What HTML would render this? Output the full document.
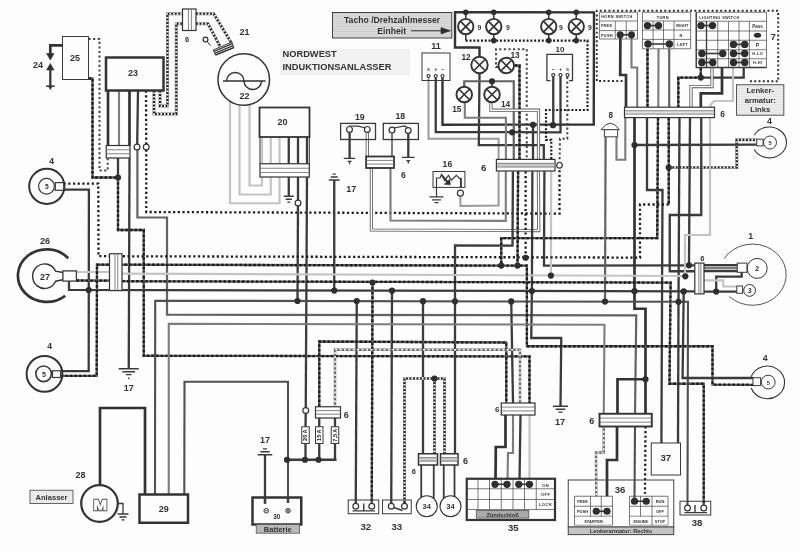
<!DOCTYPE html>
<html lang="de"><head><meta charset="utf-8"><title>Schaltplan Nordwest Induktionsanlasser</title>
<style>
html,body{margin:0;padding:0;background:#fcfdfe;}
body{width:800px;height:552px;overflow:hidden;}
svg{display:block;filter:grayscale(1) blur(0.3px);}
svg text{font-family:"Liberation Sans",sans-serif;font-weight:bold;fill:#333;}
polyline,path,line{fill:none;}
.dk{stroke:#3b3b3b;stroke-width:2.3;}
.tk{stroke:#333;stroke-width:2.7;}
.tf{stroke:#333;stroke-width:2.4;}
.gr{stroke:#7c7c7c;stroke-width:2.1;}
.g1{stroke:#505050;stroke-width:2.1;}
.g2{stroke:#636363;stroke-width:2.2;}
.mg{stroke:#9b9b9b;stroke-width:2;}
.lg{stroke:#c4c4c4;stroke-width:2.2;}
.dt{stroke:#1c1c1c;stroke-width:2.3;stroke-dasharray:2.2 2.5;}
.d7{stroke:#2a2a2a;stroke-width:1.9;stroke-dasharray:1.9 2.4;}
.dl{stroke:#444;stroke-width:2;stroke-dasharray:2.1 2.5;}
.wdb{stroke:#7a7a7a;stroke-width:2.9;}
.wdw{stroke:#fcfdfe;stroke-width:1.8;}
.wdo{stroke:#202020;stroke-width:2.1;stroke-dasharray:1.9 1.6;}
.d9{stroke:#1c1c1c;stroke-width:2.2;stroke-dasharray:2 1.8;}
.ddb{stroke:#5c5c5c;stroke-width:2.3;}
.ddo{stroke:#1c1c1c;stroke-width:2.3;stroke-dasharray:2.6 2;}
.whb{stroke:#5a5a5a;stroke-width:3.2;}
.who{stroke:#fcfdfe;stroke-width:1.5;}
.ldb{stroke:#6e6e6e;stroke-width:2.4;}
.ldo{stroke:#fcfdfe;stroke-width:1.5;stroke-dasharray:2 2.4;}
.st{stroke:#333;stroke-width:1.5;}
.s2{stroke:#3a3a3a;stroke-width:1.8;}
.th{stroke:#333;stroke-width:1;fill:none;}
.jd{fill:#2e2e2e;}
.oc{fill:#fcfdfe;stroke:#333;stroke-width:1.2;}
.bx{fill:none;stroke:#3a3a3a;stroke-width:1;}
.bm{fill:none;stroke:#333;stroke-width:1.8;}
.bt{fill:none;stroke:#333;stroke-width:2.5;}
.cn{fill:#fcfdfe;stroke:#333;stroke-width:1.2;}
.cs{stroke:#666;stroke-width:0.8;}
.lp{fill:#fcfdfe;stroke:#333;stroke-width:1.9;}
.lx{stroke:#333;stroke-width:1.7;}
.gd{stroke:#3a3a3a;stroke-width:1.3;}
.ar{fill:#2e2e2e;stroke:#2e2e2e;stroke-width:0.6;}
.tb{stroke:#444;stroke-width:0.7;fill:none;}
</style></head>
<body>
<svg width="800" height="552" viewBox="0 0 800 552">
<defs>
<pattern id="hl" width="4" height="2.6" patternUnits="userSpaceOnUse"><rect width="4" height="2.6" fill="#dcdcdc"/><rect width="4" height="0.7" fill="#c4c4c4"/></pattern>
<pattern id="hl2" width="4" height="2.6" patternUnits="userSpaceOnUse"><rect width="4" height="2.6" fill="#ececed"/><rect width="4" height="0.6" fill="#dcdcdc"/></pattern>
</defs>
<rect width="800" height="552" fill="#fcfdfe"/>
<polyline class="dl" points="88.5,39 99.5,39 99.5,170.5 107.7,170.5 107.7,158.5"/>
<polyline class="ddb" points="88.5,78.5 92.5,78.5 92.5,177.5 118,177.5"/><polyline class="ddo" points="88.5,78.5 92.5,78.5 92.5,177.5 118,177.5"/>
<polyline class="dk" points="118,177.5 118,158"/>
<polyline class="ddb" points="118,177.5 118,230 143.75,230 143.75,355.75 529.5,356.4 529.5,403"/><polyline class="ddo" points="118,177.5 118,230 143.75,230 143.75,355.75 529.5,356.4 529.5,403"/>
<polyline class="tk" points="108,90.5 108,145.5"/>
<polyline class="gr" points="119,90.5 119,145.5"/>
<polyline class="tk" points="129.5,90.5 129.5,145.5"/>
<polyline class="dk" points="138,90.5 137.2,144.5"/>
<polyline class="dk" points="129.5,158 128.75,368.75"/>
<polyline class="g2" points="137.4,149.9 137.4,217.5 167,217.5 167,314.7 636.25,315.3 635,413.75"/>
<polyline class="dt" points="146,90.5 146.25,144.5"/>
<polyline class="dt" points="146.25,149.5 146.25,212 559.5,213.6 559.5,168"/>
<polyline class="wdb" points="154,90.5 154,114 176.25,114 176.25,23.75 182.5,23.75"/><polyline class="wdw" points="154,90.5 154,114 176.25,114 176.25,23.75 182.5,23.75"/><polyline class="wdo" points="154,90.5 154,114 176.25,114 176.25,23.75 182.5,23.75"/>
<polyline class="wdb" points="160,90.5 160,106 167.5,106 167.5,13.75 182.5,13.75"/><polyline class="wdw" points="160,90.5 160,106 167.5,106 167.5,13.75 182.5,13.75"/><polyline class="wdo" points="160,90.5 160,106 167.5,106 167.5,13.75 182.5,13.75"/>
<polyline class="wdb" points="196,13.75 213.75,13.75 231.9,43.75"/><polyline class="wdw" points="196,13.75 213.75,13.75 231.9,43.75"/><polyline class="wdo" points="196,13.75 213.75,13.75 231.9,43.75"/>
<polyline class="wdb" points="196,23.75 208,23.75 220,46.25"/><polyline class="wdw" points="196,23.75 208,23.75 220,46.25"/><polyline class="wdo" points="196,23.75 208,23.75 220,46.25"/>
<polyline class="lg" points="230,102 230,203.25 279.5,203.25 279.5,177"/>
<polyline class="lg" points="239.5,104.5 239.5,194.5 270.75,194.5 270.75,177"/>
<polyline class="lg" points="249.5,104 249.5,185.5 262,185.5 262,177"/>
<polyline class="lg" points="262,137 262,163.75"/>
<polyline class="lg" points="270.75,137 270.75,163.75"/>
<polyline class="lg" points="279.5,137 279.5,163.75"/>
<polyline class="dk" points="288.75,137 288.75,163.75"/>
<polyline class="dk" points="298,137 298,163.75"/>
<polyline class="dk" points="307,137 307,163.75"/>
<path class="th" d="M260,137V164M309.3,137V164"/>
<polyline class="dk" points="288.75,177 288.75,196.25"/>
<polyline class="dk" points="298,177 298,200.4"/>
<polyline class="dk" points="298,205.6 297.5,300.75"/>
<polyline class="dk" points="307,177 305.75,408"/>
<polyline class="dk" points="334.25,180 334.25,291"/>
<polyline class="dk" points="349.6,132.3 349.6,158.3"/>
<polyline class="whb" points="367.3,132.3 367.3,156.5"/><polyline class="who" points="367.3,132.3 367.3,156.5"/>
<polyline class="gr" points="392,133 392,156.5"/>
<polyline class="dk" points="408.3,133.4 408.3,157.3"/>
<polyline class="whb" points="371.4,168 371.4,230 538.75,230.6 538.4,171.3"/><polyline class="who" points="371.4,168 371.4,230 538.75,230.6 538.4,171.3"/>
<polyline class="gr" points="390.5,168 390.5,220.5 505.8,220.9 505.8,171.3"/>
<polyline class="mg" points="460.4,196.3 460.4,206 498.6,205.6 498.6,171.3"/>
<polyline class="mg" points="428.5,78 428.5,138.8 498.6,138.8 498.6,159.4"/>
<polyline class="dk" points="435.75,78 435.75,132 560.5,132.3 560.5,77"/>
<polyline class="tf" points="442.5,78 442.5,124.8 593.75,124.5 594,12.4 455,12.2 455,47.5 479.5,47.5 479.5,56"/>
<polyline class="dk" points="479.5,73.5 478.8,145.1 543.8,145.1 543.8,159.4"/>
<polyline class="st" points="465.75,12 465.75,19"/>
<polyline class="st" points="465.75,35 465.75,40.6"/>
<polyline class="st" points="493.75,12 493.75,19"/>
<polyline class="st" points="493.75,35 493.75,40.6"/>
<polyline class="st" points="548.75,12 548.75,19"/>
<polyline class="st" points="548.75,35 548.75,40.6"/>
<polyline class="st" points="576.25,12 576.25,19"/>
<polyline class="st" points="576.25,35 576.25,40.6"/>
<polyline class="d9" points="465.75,40.6 587.5,40.6 587.5,110 546,110 546,139.8 551.3,139.8 551.3,159.4"/>
<polyline class="dl" points="498,67 496,67 496,49.25 526.75,49.25 526.75,159.4"/>
<polyline class="dt" points="525.6,171.3 525.6,257.75"/>
<polyline class="ddb" points="514.75,65.5 519.5,65.5 519.5,159.4"/><polyline class="ddo" points="514.75,65.5 519.5,65.5 519.5,159.4"/>
<polyline class="ddb" points="518.1,171.3 517.5,265.6"/><polyline class="ddo" points="518.1,171.3 517.5,265.6"/>
<polyline class="g2" points="464.25,86 464.25,81.25 513.75,81.25 513.75,159.4"/>
<polyline class="g2" points="492,81.25 492,86"/>
<polyline class="dk" points="512.9,171.3 512.5,245.6 455,245.5 455,453.75"/>
<polyline class="gr" points="464.8,103 464.8,117.7 505.9,117.7 505.9,159.4"/>
<polyline class="whb" points="491,103 491,110.2 538.5,110.2 538.5,159.4"/><polyline class="who" points="491,103 491,110.2 538.5,110.2 538.5,159.4"/>
<polyline class="dk" points="533,124.8 533,159.4"/>
<polyline class="dk" points="532.4,171.3 531.9,290.6 531.25,338 561.25,338 560.5,406.25"/>
<polyline class="dk" points="544.4,171.3 544,265.6 694.75,265.4"/>
<polyline class="lg" points="551.2,171.3 550.9,275.6"/>
<polyline class="dk" points="553.25,77 553.25,125"/>
<polyline class="dl" points="567.3,77 567.3,138.75 560,138.75 559.5,162.5"/>
<polyline class="d7" points="622.5,81 596.8,81 596.8,10.8 778.2,10.8 778.2,81.25 750,81.25"/>
<polyline class="tk" points="620.4,37 620.2,75 626,75 626,107"/>
<polyline class="gr" points="631.5,37 631.5,67.5 637.2,67.5 637.2,107"/>
<polyline class="ddb" points="647.5,48.75 647.5,107"/><polyline class="ddo" points="647.5,48.75 647.5,107"/>
<polyline class="gr" points="658.5,48.75 658.3,107"/>
<polyline class="g2" points="669.2,48.75 669.2,107"/>
<polyline class="ddb" points="700.8,67.8 700.8,77.6 678.3,77.6 678.3,107"/><polyline class="ddo" points="700.8,67.8 700.8,77.6 678.3,77.6 678.3,107"/>
<polyline class="dk" points="700.8,77.6 743.7,77.6 743.7,67.8"/>
<polyline class="whb" points="712,67.8 712,86.6 691,86.6 691,107"/><polyline class="who" points="712,67.8 712,86.6 691,86.6 691,107"/>
<polyline class="tk" points="722,67.8 722,93.4 700.8,93.4 700.8,107"/>
<polyline class="lg" points="733,67.8 733,101 714,101 710.6,104.6 710.6,107"/>
<polyline class="gr" points="625.3,118 625.3,159.7 616.5,159.7 616.5,137"/>
<polyline class="tk" points="634.5,118 634.5,308.75 645.5,308.75 645.5,413.75"/>
<polyline class="dk" points="647,118 647,190 662.5,190 661.4,443"/>
<polyline class="ddb" points="658,118 657.25,238.1 501.25,238.1 501.25,265.6"/><polyline class="ddo" points="658,118 657.25,238.1 501.25,238.1 501.25,265.6"/>
<polyline class="ddb" points="668.75,118 668.75,204.5"/><polyline class="ddo" points="668.75,118 668.75,204.5"/>
<polyline class="dt" points="668.75,204.5 640,204.5 640,257.6 98.5,256.2 98.3,183.6 63.9,183.6"/>
<polyline class="wdb" points="668.75,167.5 736.9,167.5 736.7,139.9 756.7,139.9"/><polyline class="wdw" points="668.75,167.5 736.9,167.5 736.7,139.9 756.7,139.9"/><polyline class="wdo" points="668.75,167.5 736.9,167.5 736.7,139.9 756.7,139.9"/>
<polyline class="dk" points="679.5,118 678.5,301.8"/>
<polyline class="dk" points="690,118 689,265.3"/>
<polyline class="dk" points="701.25,118 701.25,215 669.75,215 669.75,271.25 694.75,271.25"/>
<polyline class="lg" points="710,118 710,235 685,235 685,276"/>
<polyline class="dk" points="634.5,145 756.7,144.7"/>
<polyline class="g2" points="605.6,137 605,301.5"/>
<polyline class="dk" points="63.9,189.6 88.9,189.6 88.7,371.2 60.6,371.2"/>
<polyline class="lg" points="76.4,272 109.5,272"/>
<polyline class="lg" points="122,273.6 685,276"/>
<polyline class="ddb" points="76.4,280.5 115,280.7 116,281.2 670.6,282.6 669.5,383.75 703.75,383.75 703.75,505"/><polyline class="ddo" points="76.4,280.5 115,280.7 116,281.2 670.6,282.6 669.5,383.75 703.75,383.75 703.75,505"/>
<polyline class="dk" points="69,281.25 69,289.9 694.75,291.4"/>
<polyline class="ddb" points="60.6,375.8 96.7,375.8 97,264.6 526.9,265.7 526.9,346.25 712.5,346.25 712.5,384.6 753,384.8"/><polyline class="ddo" points="60.6,375.8 96.7,375.8 97,264.6 526.9,265.7 526.9,346.25 712.5,346.25 712.5,384.6 753,384.8"/>
<polyline class="g1" points="155,494.5 155.2,300.7 678.5,301.8 688,301.8 687.5,505"/>
<polyline class="dk" points="356.75,301.25 355.75,503"/>
<polyline class="dk" points="423,301.25 423,453.75"/>
<polyline class="dk" points="511.25,301.75 513,403"/>
<polyline class="ddb" points="372.5,282.5 371.75,503"/><polyline class="ddo" points="372.5,282.5 371.75,503"/>
<polyline class="dk" points="392,291.25 391.25,503"/>
<polyline class="gr" points="168.75,494.5 168.75,323.75 604.5,324.7 603.75,413.75"/>
<polyline class="g1" points="184.3,494.5 184.5,381.7 288,381.7 288,503"/>
<polyline class="ddb" points="319.25,406.75 319.25,341.5 506.25,342.5 506.25,403"/><polyline class="ddo" points="319.25,406.75 319.25,341.5 506.25,342.5 506.25,403"/>
<polyline class="ldb" points="335,406.75 335,349.75 520,349.75 520,403"/><polyline class="ldo" points="335,406.75 335,349.75 520,349.75 520,403"/>
<polyline class="tk" points="100,485 100,408 145,408 145,494.5"/>
<polyline class="dk" points="305.75,413 305.5,426.75"/>
<polyline class="dk" points="305.5,443.5 305.5,459.75"/>
<polyline class="dk" points="319.25,418 319.25,426.75"/>
<polyline class="dk" points="319.25,443.5 319.25,459.75"/>
<polyline class="dk" points="335,418 335,426.75"/>
<polyline class="dk" points="335,443.5 335,459.75"/>
<polyline class="dk" points="287,459.75 336.5,459.75"/>
<polyline class="dk" points="265,454.75 265,503.75"/>
<polyline class="wdb" points="404.5,503 404.5,378.5 444.5,378.5 444.5,453.75"/><polyline class="wdw" points="404.5,503 404.5,378.5 444.5,378.5 444.5,453.75"/><polyline class="wdo" points="404.5,503 404.5,378.5 444.5,378.5 444.5,453.75"/>
<polyline class="wdb" points="434.5,378.5 434.5,453.75"/><polyline class="wdw" points="434.5,378.5 434.5,453.75"/><polyline class="wdo" points="434.5,378.5 434.5,453.75"/>
<polyline class="s2" points="421.25,465 421.25,497.5"/>
<polyline class="s2" points="433.75,465 433.75,499"/>
<polyline class="s2" points="443.75,465 443.75,499"/>
<polyline class="s2" points="454.5,465 454.5,497.5"/>
<polyline class="tk" points="505.5,415 505.5,447 495.8,447 495.5,482"/>
<polyline class="gr" points="513,415 513,453 508,453 507.5,482"/>
<polyline class="dk" points="520.5,415 519.5,482"/>
<polyline class="lg" points="529.5,415 529.5,482"/>
<polyline class="tk" points="645.5,379.25 617.5,379.25 617.5,413.75"/>
<polyline class="ldb" points="603.75,426.25 603.75,452.5 596,452.5 596.25,496.25"/><polyline class="ldo" points="603.75,426.25 603.75,452.5 596,452.5 596.25,496.25"/>
<polyline class="tk" points="617,426.25 617,460 607,460 607,496.25"/>
<polyline class="g1" points="635,426.25 634.5,498"/>
<polyline class="dt" points="645.5,426.25 645,493.75"/>
<polyline class="dk" points="678.5,301.8 678,443"/>
<polyline class="dk" points="683.7,291.5 682.6,378 753,378"/>
<polyline class="dk" points="704,265.2 737.3,265.2"/>
<polyline class="gr" points="704,267.9 737.3,267.9"/>
<polyline class="dk" points="704,271 737.3,271"/>
<polyline class="dk" points="741.7,272.3 741.7,276.7 716.2,276.7 716.2,291.6"/>
<polyline class="dk" points="704,291.6 736.8,291.6"/>
<polyline class="lg" points="704,280.3 723.3,280.3 723.3,286.5 736.8,286.5"/>
<circle class="jd" cx="118" cy="177.5" r="3.1"/>
<circle class="jd" cx="88.75" cy="290" r="3.1"/>
<circle class="jd" cx="334.25" cy="290.6" r="3.1"/>
<circle class="jd" cx="392" cy="290.7" r="3.1"/>
<circle class="jd" cx="531.9" cy="291" r="3.1"/>
<circle class="jd" cx="634.5" cy="291.2" r="3.1"/>
<circle class="jd" cx="683.7" cy="291.4" r="3.1"/>
<circle class="jd" cx="297.5" cy="301" r="3.1"/>
<circle class="jd" cx="356.75" cy="301.1" r="3.1"/>
<circle class="jd" cx="423" cy="301.2" r="3.1"/>
<circle class="jd" cx="455" cy="301.3" r="3.1"/>
<circle class="jd" cx="511.25" cy="301.4" r="3.1"/>
<circle class="jd" cx="605" cy="301.6" r="3.1"/>
<circle class="jd" cx="678.5" cy="301.8" r="3.1"/>
<circle class="jd" cx="372.5" cy="282.5" r="3.1"/>
<circle class="jd" cx="501.25" cy="265.6" r="3.1"/>
<circle class="jd" cx="517.5" cy="265.6" r="3.1"/>
<circle class="jd" cx="525.6" cy="257.75" r="3.1"/>
<circle class="jd" cx="550.9" cy="275.6" r="3.1"/>
<circle class="jd" cx="689" cy="265.3" r="3.1"/>
<circle class="jd" cx="685.3" cy="276.3" r="3.1"/>
<circle class="jd" cx="512.2" cy="132.3" r="3.1"/>
<circle class="jd" cx="533" cy="124.8" r="3.1"/>
<circle class="jd" cx="553" cy="125.2" r="3.1"/>
<circle class="jd" cx="492" cy="81.25" r="3.1"/>
<circle class="jd" cx="634.5" cy="145" r="3.1"/>
<circle class="jd" cx="668.75" cy="167.5" r="3.1"/>
<circle class="jd" cx="645.5" cy="379.25" r="3.1"/>
<circle class="jd" cx="716.2" cy="291.6" r="3.1"/>
<circle class="jd" cx="287" cy="459.75" r="3.1"/>
<circle class="jd" cx="305" cy="459.75" r="3.1"/>
<circle class="jd" cx="318.5" cy="459.75" r="3.1"/>
<circle class="jd" cx="434.5" cy="378.5" r="3.1"/>
<circle class="jd" cx="700.8" cy="77.6" r="3.1"/>
<circle class="jd" cx="465.75" cy="12.2" r="2.8"/>
<circle class="jd" cx="493.75" cy="12.2" r="2.8"/>
<circle class="jd" cx="548.75" cy="12.2" r="2.8"/>
<circle class="jd" cx="576.25" cy="12.2" r="2.8"/>
<circle class="jd" cx="493.75" cy="40.6" r="2.8"/>
<circle class="jd" cx="548.75" cy="40.6" r="2.8"/>
<circle class="jd" cx="576.25" cy="40.6" r="2.8"/>
<rect class="bx" x="62.5" y="36.5" width="26" height="43"/>
<polyline class="tk" points="62.5,45.3 50.3,45.3 50.3,54"/>
<path class="ar" d="M46.6,53.5H54L50.3,60ZM50.3,63.5L54,70H46.6ZM48.3,86H52.3L50.3,89.6Z"/>
<path class="dk" style="stroke-width:1.5" d="M46,86.1H54.8"/>
<polyline class="dk" points="50.3,69 50.3,87"/>
<text x="75" y="60.74" font-size="9" text-anchor="middle" >25</text>
<text x="38" y="67.74" font-size="9" text-anchor="middle" >24</text>
<rect class="bt" x="106" y="57.5" width="57.5" height="33"/>
<text x="133" y="76.24" font-size="9" text-anchor="middle" >23</text>
<rect class="cn" style="stroke-width:1.2" x="106.25" y="145.5" width="23.75" height="12.5"/>
<line class="cs" x1="106.25" y1="149.75" x2="130" y2="149.75"/>
<line class="cs" x1="106.25" y1="153.75" x2="130" y2="153.75"/>
<circle class="oc" cx="137" cy="147" r="2.9"/>
<circle class="oc" cx="146.25" cy="147" r="2.9"/>
<rect class="cn" x="182.5" y="9" width="13.5" height="21.5"/>
<line class="cs" x1="188.44" y1="9" x2="188.44" y2="30.5"/>
<line class="cs" x1="191.41" y1="9" x2="191.41" y2="30.5"/>
<text x="187" y="41.7" font-size="7.5" text-anchor="middle" >6</text>
<g transform="translate(223.6,48.6) rotate(-22.6)"><rect x="-10" y="-2.8" width="20" height="5.6" fill="#fff" stroke="#333" stroke-width="0.8"/><path class="dk" style="stroke-width:1.4" d="M-10,-1.2H10M-10,0.9H10M-10,3H10"/></g>
<circle class="oc" cx="205.5" cy="39.5" r="2.4"/>
<path class="th" d="M207,41.5L210.5,45.5"/>
<text x="244.5" y="35.24" font-size="9" text-anchor="middle" >21</text>
<circle cx="243.75" cy="79.5" r="25.8" fill="#fcfdfe" stroke="#333" stroke-width="1.5"/>
<path class="th" style="stroke-width:1.4" d="M223,81H265.5M226.5,81A8.7,8.5 0 0 1 244,81A8.7,8.5 0 0 0 261.5,81"/>
<text x="244.5" y="98.99" font-size="9" text-anchor="middle" >22</text>
<rect class="bm" x="259.5" y="107.5" width="50" height="29.5"/>
<text x="282.5" y="125.24" font-size="9" text-anchor="middle" >20</text>
<rect class="cn" style="stroke-width:1.2" x="260" y="163.75" width="49.3" height="13.25"/>
<line class="cs" x1="260" y1="168.255" x2="309.3" y2="168.255"/>
<line class="cs" x1="260" y1="172.495" x2="309.3" y2="172.495"/>
<path class="gd" d="M283.75,196.25H293.75M285.55,199.25H291.95M287.35,202.05H290.15"/>
<circle class="oc" cx="298" cy="203" r="2.9"/>
<path class="gd" d="M328.75,180H339.75M330.73,177H337.77M332.71,174.2H335.79"/>
<text x="351.25" y="191.99" font-size="9" text-anchor="middle" >17</text>
<rect class="bx" style="stroke-width:1.3" x="340.6" y="123.4" width="34.9" height="16.1"/>
<rect class="bx" style="stroke-width:1.3" x="383.3" y="123.4" width="35.1" height="16.1"/>
<circle class="oc" cx="349.5" cy="129.4" r="2.9"/>
<circle class="oc" cx="367.2" cy="129.4" r="2.9"/>
<circle class="oc" cx="392" cy="130.1" r="2.9"/>
<circle class="oc" cx="408.2" cy="130.5" r="2.9"/>
<path class="th" style="stroke-width:1.2" d="M349,126L358,126.2L366,128M394,128L404.7,126L407.6,127.8"/>
<text x="359.8" y="119.868" font-size="8.8" text-anchor="middle" >19</text>
<text x="400.3" y="119.368" font-size="8.8" text-anchor="middle" >18</text>
<path class="gd" d="M343.7,158.3H355.1M347.6,161.4H351.6M349.6,161.4V164.3M402,157.3H414.6M406.3,160.6H410.3M408.3,160.6V163.5"/>
<rect class="cn" style="stroke-width:1.8" x="366.1" y="156.5" width="27.9" height="11.5"/>
<line class="cs" x1="366.1" y1="160.41" x2="394" y2="160.41"/>
<line class="cs" x1="366.1" y1="164.09" x2="394" y2="164.09"/>
<text x="403.4" y="178.396" font-size="8.6" text-anchor="middle" >6</text>
<rect class="bx" x="433" y="171.5" width="31.9" height="15.9"/>
<path class="dk" style="stroke-width:1.2" d="M436.5,196.9V178H440L441.5,174.4L444.7,180.5L448.4,175.4L451.4,180L456.4,175.4L459.4,178.4H460.9"/>
<path class="dk" style="stroke-width:2" d="M460.9,178V187.3M441.8,175.2L447.5,182"/>
<path class="ar" d="M450.3,184.8L444.3,184.3L449.8,179.3Z"/>
<path class="gd" d="M429.5,196.9H443.5M432.02,199.9H440.98M434.54,202.7H438.46"/>
<circle class="oc" cx="460.4" cy="193.2" r="3"/>
<text x="447.4" y="166.596" font-size="8.6" text-anchor="middle" >16</text>
<text x="483.6" y="170.72" font-size="9.5" text-anchor="middle" >6</text>
<rect class="bx" x="422" y="53" width="28" height="27.5"/>
<text x="436" y="48.99" font-size="9" text-anchor="middle" >11</text>
<text x="428.5" y="70.5" font-size="5.4" text-anchor="middle" >s</text>
<circle class="oc" cx="428.5" cy="76" r="1.5"/>
<text x="435.75" y="70.5" font-size="5.4" text-anchor="middle" >+</text>
<circle class="oc" cx="435.75" cy="76" r="1.5"/>
<text x="442.5" y="70.5" font-size="5.4" text-anchor="middle" >−</text>
<circle class="oc" cx="442.5" cy="76" r="1.5"/>
<path class="bx" style="stroke-width:1.3" d="M550.5,80.6H546.9V54.3H572.5V80.6H569"/>
<text x="560" y="52.28" font-size="8" text-anchor="middle" >10</text>
<text x="553.25" y="71" font-size="5.4" text-anchor="middle" >−</text>
<circle class="oc" cx="553.25" cy="75" r="1.5"/>
<text x="560.5" y="71" font-size="5.4" text-anchor="middle" >+</text>
<circle class="oc" cx="560.5" cy="75" r="1.5"/>
<text x="567.5" y="71" font-size="5.4" text-anchor="middle" >s</text>
<circle class="oc" cx="567.5" cy="75" r="1.5"/>
<circle class="lp" cx="465.75" cy="26.6" r="7.7"/>
<path class="lx" d="M460.822,21.672L470.678,31.528M460.822,31.528L470.678,21.672"/>
<circle class="lp" cx="493.75" cy="26.6" r="7.7"/>
<path class="lx" d="M488.822,21.672L498.678,31.528M488.822,31.528L498.678,21.672"/>
<circle class="lp" cx="548.75" cy="26.6" r="7.7"/>
<path class="lx" d="M543.822,21.672L553.678,31.528M543.822,31.528L553.678,21.672"/>
<circle class="lp" cx="576.25" cy="26.6" r="7.7"/>
<path class="lx" d="M571.322,21.672L581.178,31.528M571.322,31.528L581.178,21.672"/>
<text x="479.5" y="30.248" font-size="6.8" text-anchor="middle" >9</text>
<text x="508" y="30.248" font-size="6.8" text-anchor="middle" >9</text>
<text x="561" y="30.248" font-size="6.8" text-anchor="middle" >9</text>
<text x="590" y="30.248" font-size="6.8" text-anchor="middle" >9</text>
<circle class="lp" cx="479.5" cy="65" r="8.2"/>
<path class="lx" d="M474.252,59.752L484.748,70.248M474.252,70.248L484.748,59.752"/>
<circle class="lp" cx="506.25" cy="65.5" r="7.8"/>
<path class="lx" d="M501.258,60.508L511.242,70.492M501.258,70.492L511.242,60.508"/>
<circle class="lp" cx="464.25" cy="94.5" r="7.8"/>
<path class="lx" d="M459.258,89.508L469.242,99.492M459.258,99.492L469.242,89.508"/>
<circle class="lp" cx="492" cy="94.5" r="7.8"/>
<path class="lx" d="M487.008,89.508L496.992,99.492M487.008,99.492L496.992,89.508"/>
<text x="466" y="59.988" font-size="8.3" text-anchor="middle" >12</text>
<text x="515" y="58.488" font-size="8.3" text-anchor="middle" >13</text>
<text x="456.75" y="111.988" font-size="8.3" text-anchor="middle" >15</text>
<text x="505.5" y="107.488" font-size="8.3" text-anchor="middle" >14</text>
<rect class="cn" style="stroke-width:1.2" x="496.4" y="159.4" width="58.6" height="11.6"/>
<rect x="497" y="163.576" width="57.4" height="3.248" fill="#c9c9c9"/>
<line class="cs" x1="496.4" y1="163.344" x2="555" y2="163.344"/>
<line class="cs" x1="496.4" y1="167.056" x2="555" y2="167.056"/>
<circle class="oc" cx="559.5" cy="165.3" r="2.8"/>
<rect x="332.5" y="12.5" width="119.25" height="25.5" fill="url(#hl)" stroke="#444" stroke-width="1"/>
<text x="392.1" y="22.6" font-size="8.65" text-anchor="middle" >Tacho /Drehzahlmesser</text>
<text x="391.7" y="33.9" font-size="8.65" text-anchor="middle" >Einheit</text>
<path class="th" d="M411,30.75H443"/><path class="ar" d="M441,27.6L450.5,30.75L441,33.9Z"/>
<rect x="280" y="48.75" width="130" height="26.5" fill="#f0f1f3"/>
<text x="282.5" y="57" font-size="9.3" text-anchor="start" >NORDWEST</text>
<text x="282.5" y="69.5" font-size="9.3" text-anchor="start" >INDUKTIONSANLASSER</text>
<path d="M599.4,12.25H637.5V39H599.4Z" fill="#fdfdfe" stroke="none"/>
<path class="tb" d="M599.4,12.25H637.5V39H599.4ZM599.4,21H637.5M599.4,30.6H637.5M615.25,21V39M626.25,21V39"/>
<text x="617" y="18.3" font-size="3.9" text-anchor="middle" letter-spacing="0.33">HORN SWITCH</text>
<text x="606.6" y="27" font-size="3.9" text-anchor="middle" letter-spacing="0.2">FREE</text>
<text x="606.9" y="36.6" font-size="3.9" text-anchor="middle" letter-spacing="0.2">PUSH</text>
<path class="dk" style="stroke-width:1.6" d="M620.2,34.75H631.5"/>
<circle class="jd" cx="620.2" cy="34.75" r="3.5"/>
<circle class="jd" cx="631.5" cy="34.75" r="3.5"/>
<path d="M642.5,12.25H690.6V48.75H642.5Z" fill="#fdfdfe" stroke="none"/>
<path class="tb" d="M642.5,12.25H690.6V48.75H642.5ZM642.5,21H690.6M642.5,30H690.6M642.5,39.4H690.6M653.1,21V48.75M663.5,21V48.75M674,21V48.75"/>
<text x="662.8" y="18.5" font-size="3.9" text-anchor="middle" letter-spacing="0.3">TURN</text>
<text x="682.4" y="27" font-size="3.9" text-anchor="middle" >RIGHT</text>
<text x="681" y="36.6" font-size="3.9" text-anchor="middle" >N</text>
<text x="682.6" y="45.8" font-size="3.9" text-anchor="middle" letter-spacing="0.2">LEFT</text>
<path class="dk" style="stroke-width:1.6" d="M647.5,25.6H658.5"/>
<circle class="jd" cx="647.5" cy="25.6" r="3.7"/>
<circle class="jd" cx="658.5" cy="25.6" r="3.7"/>
<path class="dk" style="stroke-width:1.6" d="M648,44H669.4"/>
<circle class="jd" cx="648" cy="44" r="3.7"/>
<circle class="jd" cx="669.4" cy="44" r="3.7"/>
<path d="M696.25,12.25H766.5V67.5H696.25Z" fill="#fdfdfe" stroke="none"/>
<path class="tb" d="M696.25,12.25H766.5V67.5H696.25ZM696.25,21.25H766.5M696.25,31H766.5M696.25,40.25H766.5M696.25,49.75H766.5M696.25,58.75H766.5M706.5,21.25V67.5M717.75,21.25V67.5M728.5,21.25V67.5M739,21.25V67.5M749.4,21.25V67.5"/>
<path class="dk" style="stroke-width:1.3" d="M706.5,21.25V67.5M696.25,12.25V67.5H766.5"/>
<text x="719.5" y="18.5" font-size="3.9" text-anchor="middle" letter-spacing="0.35">LIGHTING SWITCH</text>
<text x="757.5" y="27.6" font-size="4.5" text-anchor="middle" >Pass</text>
<text x="757.5" y="46.8" font-size="5" text-anchor="middle" >P</text>
<text x="757.7" y="55" font-size="3.9" text-anchor="middle" letter-spacing="0.3">H-LO</text>
<text x="757.7" y="64.2" font-size="3.9" text-anchor="middle" letter-spacing="0.3">H-HI</text>
<ellipse cx="757.5" cy="35.25" rx="3.6" ry="2.5" fill="#2c2c2c"/>
<path class="dk" style="stroke-width:1.6" d="M701,25.6H712.5"/>
<circle class="jd" cx="701" cy="25.6" r="3.7"/>
<circle class="jd" cx="712.5" cy="25.6" r="3.7"/>
<path class="dk" style="stroke-width:1.6" d="M733.5,44.4H744.75"/>
<circle class="jd" cx="733.5" cy="44.4" r="3.7"/>
<circle class="jd" cx="744.75" cy="44.4" r="3.7"/>
<path class="dk" style="stroke-width:1.6" d="M701.9,53.5H722.75"/>
<circle class="jd" cx="701.9" cy="53.5" r="3.7"/>
<circle class="jd" cx="722.75" cy="53.5" r="3.7"/>
<path class="dk" style="stroke-width:1.6" d="M733.5,53.5H744.75"/>
<circle class="jd" cx="733.5" cy="53.5" r="3.7"/>
<circle class="jd" cx="744.75" cy="53.5" r="3.7"/>
<path class="dk" style="stroke-width:1.6" d="M701.9,62.5H712.75"/>
<circle class="jd" cx="701.9" cy="62.5" r="3.7"/>
<circle class="jd" cx="712.75" cy="62.5" r="3.7"/>
<path class="dk" style="stroke-width:1.6" d="M733.5,62.5H744.75"/>
<circle class="jd" cx="733.5" cy="62.5" r="3.7"/>
<circle class="jd" cx="744.75" cy="62.5" r="3.7"/>
<text x="773.1" y="39.706" font-size="9.6" text-anchor="middle" >7</text>
<rect class="cn" style="stroke-width:1.2" x="624.5" y="107.2" width="90" height="10.4"/>
<rect x="625.1" y="110.944" width="88.8" height="2.912" fill="#e2e2e2"/>
<line class="cs" x1="624.5" y1="110.736" x2="714.5" y2="110.736"/>
<line class="cs" x1="624.5" y1="114.064" x2="714.5" y2="114.064"/>
<text x="722.5" y="117.274" font-size="8.4" text-anchor="middle" >6</text>
<rect x="736.5" y="84.7" width="47.3" height="30.5" fill="url(#hl2)" stroke="#555" stroke-width="1"/>
<text x="760.3" y="93" font-size="7.7" text-anchor="middle" >Lenker-</text>
<text x="760.3" y="102.6" font-size="7.7" text-anchor="middle" >armatur:</text>
<text x="760.3" y="112.4" font-size="7.7" text-anchor="middle" >Links</text>
<path d="M601.2,129.7Q610.3,116.6 619.4,129.7Z" fill="#fcfdfe" stroke="#444" stroke-width="1"/>
<rect x="604.4" y="129.7" width="13.2" height="7.1" fill="#fcfdfe" stroke="#444" stroke-width="1"/>
<text x="610.9" y="117.952" font-size="8.2" text-anchor="middle" >8</text>
<path d="M754.2,135.3A17.1,15.4 0 1 1 754.2,149.5" fill="none" stroke="#333" stroke-width="1.1"/>
<circle cx="770" cy="142.5" r="6.5" class="bx"/>
<rect class="bx" x="756.7" y="139.2" width="6.4" height="6.7" fill="#fcfdfe"/>
<text x="770.2" y="144.888" font-size="5.8" text-anchor="middle" >5</text>
<text x="769.5" y="124.468" font-size="8.8" text-anchor="middle" >4</text>
<circle cx="46.8" cy="186.3" r="17.6" fill="none" stroke="#333" stroke-width="2"/>
<circle cx="46.5" cy="186.3" r="7.9" class="bx" style="stroke-width:1.2"/>
<rect class="bx" style="stroke-width:1.2" x="55.3" y="182.6" width="8.6" height="7.7" fill="#fcfdfe"/>
<text x="46.8" y="189.176" font-size="6.6" text-anchor="middle" >5</text>
<text x="51.6" y="164.296" font-size="8.6" text-anchor="middle" >4</text>
<path d="M68.2,258.3A28.7,26.3 0 1 0 65.2,295.7" fill="none" stroke="#333" stroke-width="2.7"/>
<path d="M62.9,272.5L55.6,271.2A12,12.3 0 1 0 55.6,281.2L62.9,279.8" fill="#fcfdfe" stroke="#333" stroke-width="1.4"/>
<rect class="bx" style="stroke-width:1.3" x="62.9" y="270.9" width="13.5" height="10.2" fill="#fcfdfe"/>
<text x="45" y="280.44" font-size="9" text-anchor="middle" >27</text>
<text x="45" y="244.49" font-size="9" text-anchor="middle" >26</text>
<rect class="cn" x="109.5" y="253.75" width="12.5" height="36.75"/>
<line class="cs" x1="115" y1="253.75" x2="115" y2="290.5"/>
<line class="cs" x1="117.75" y1="253.75" x2="117.75" y2="290.5"/>
<circle cx="44.5" cy="373.9" r="17.9" fill="none" stroke="#333" stroke-width="2"/>
<circle cx="43.6" cy="373.8" r="7.8" class="bx" style="stroke-width:1.6"/>
<rect class="bx" style="stroke-width:1.2" x="52.5" y="370.8" width="8.1" height="6.7" fill="#fcfdfe"/>
<text x="44" y="377.02" font-size="7" text-anchor="middle" >5</text>
<text x="49.6" y="349.296" font-size="8.6" text-anchor="middle" >4</text>
<path class="gd" d="M118.75,368.75H138.75M122.35,371.75H135.15M125.95,374.55H131.55"/>
<path class="gd" d="M128.75,377.5V379"/>
<text x="128.75" y="391.24" font-size="9" text-anchor="middle" >17</text>
<circle cx="99.5" cy="503.5" r="18.3" fill="#fcfdfe" stroke="#333" stroke-width="2.2"/>
<text transform="translate(100.2,509.6) scale(1.12,1)" font-size="14.6" text-anchor="middle" style="fill:#4a4a4a;stroke:#4a4a4a;stroke-width:2.3;stroke-linejoin:miter">M</text>
<text transform="translate(100.2,509.6) scale(1.12,1)" font-size="14.6" text-anchor="middle" style="fill:#fcfdfe;stroke:#fcfdfe;stroke-width:0.7;stroke-linejoin:miter">M</text>
<path class="dk" style="stroke-width:1.3" d="M118,503.5H123V514"/>
<path class="gd" d="M117.5,514H128.5M119.48,517H126.52M121.46,519.8H124.54"/>
<text x="80.5" y="477.99" font-size="9" text-anchor="middle" >28</text>
<rect x="30" y="490.25" width="43" height="13.25" fill="#e9eaec" stroke="#555" stroke-width="0.9"/>
<text x="51.5" y="499.6" font-size="7.6" text-anchor="middle" >Anlasser</text>
<rect class="bt" x="139.5" y="494.5" width="48.5" height="28.25" fill="#fcfdfe"/>
<text x="163.75" y="512.24" font-size="9" text-anchor="middle" >29</text>
<rect class="bt" x="252.5" y="497.5" width="48.75" height="27" fill="#fcfdfe"/>
<polyline class="dk" points="265,497 265,503.75"/>
<polyline class="dk" points="288,497 288,503"/>
<circle cx="266.25" cy="510.75" r="2.3" class="th"/><path class="th" d="M265,510.75H267.5"/>
<circle cx="288" cy="510.75" r="2.3" class="th"/><path class="th" d="M286.7,510.75H289.3M288,509.4V512.1"/>
<text x="276.75" y="518.84" font-size="6.5" text-anchor="middle" >30</text>
<rect x="256.25" y="524.5" width="43.25" height="8.7" fill="#b9b9b9" stroke="#555" stroke-width="0.8"/>
<text x="277.8" y="531.6" font-size="7.5" text-anchor="middle" >Batterie</text>
<path class="gd" d="M257.75,454.75H272.25M260.36,451.75H269.64M262.97,448.95H267.03"/>
<text x="265" y="443.24" font-size="9" text-anchor="middle" >17</text>
<circle class="oc" cx="305.75" cy="410.5" r="2.9"/>
<rect class="cn" style="stroke-width:1.2" x="315.5" y="406.75" width="25" height="11.25"/>
<line class="cs" x1="315.5" y1="410.575" x2="340.5" y2="410.575"/>
<line class="cs" x1="315.5" y1="414.175" x2="340.5" y2="414.175"/>
<text x="346.25" y="417.99" font-size="9" text-anchor="middle" >6</text>
<rect class="bx" x="301.75" y="426.75" width="7.5" height="16.75" fill="#fcfdfe"/>
<text font-size="5.5" style="fill:#1c1c1c" text-anchor="middle" transform="translate(307.4,435.2) rotate(-90)">20 A</text>
<rect class="bx" x="315.5" y="426.75" width="7.5" height="16.75" fill="#fcfdfe"/>
<text font-size="5.5" style="fill:#1c1c1c" text-anchor="middle" transform="translate(321.15,435.2) rotate(-90)">15 A</text>
<rect class="bx" x="331.25" y="426.75" width="7.5" height="16.75" fill="#fcfdfe"/>
<text font-size="5.5" style="fill:#1c1c1c" text-anchor="middle" transform="translate(336.9,435.2) rotate(-90)">7,5 A</text>
<rect class="bx" x="348.25" y="500" width="30.5" height="13.75"/>
<rect class="bx" x="382.5" y="500" width="28.75" height="13.75"/>
<circle class="oc" cx="355.75" cy="506.25" r="2.9"/>
<circle class="oc" cx="371.75" cy="506.25" r="2.9"/>
<circle class="oc" cx="391.25" cy="506.25" r="2.9"/>
<circle class="oc" cx="404.5" cy="506.25" r="2.9"/>
<path class="dk" style="stroke-width:1.4" d="M352.5,510.9H375M363.75,503.5V510.9M394,507.5L402.5,510.5"/>
<text x="365.75" y="530.206" font-size="9.6" text-anchor="middle" >32</text>
<text x="396.75" y="530.206" font-size="9.6" text-anchor="middle" >33</text>
<rect class="cn" style="stroke-width:1.5" x="418.5" y="453.75" width="19" height="11.25"/>
<rect x="419.1" y="457.8" width="17.8" height="3.15" fill="#c9c9c9"/>
<line class="cs" x1="418.5" y1="457.575" x2="437.5" y2="457.575"/>
<line class="cs" x1="418.5" y1="461.175" x2="437.5" y2="461.175"/>
<rect class="cn" style="stroke-width:1.5" x="440.5" y="453.75" width="17.5" height="11.25"/>
<rect x="441.1" y="457.8" width="16.3" height="3.15" fill="#c9c9c9"/>
<line class="cs" x1="440.5" y1="457.575" x2="458" y2="457.575"/>
<line class="cs" x1="440.5" y1="461.175" x2="458" y2="461.175"/>
<circle cx="426.75" cy="506.25" r="10.5" fill="#fcfdfe" stroke="#333" stroke-width="1.1"/>
<circle cx="450.5" cy="506.25" r="10.5" fill="#fcfdfe" stroke="#333" stroke-width="1.1"/>
<text x="426.75" y="509.2" font-size="7.5" text-anchor="middle" >34</text>
<text x="450.5" y="509.2" font-size="7.5" text-anchor="middle" >34</text>
<text x="465.5" y="464.14" font-size="9" text-anchor="middle" >6</text>
<text x="413.75" y="474.45" font-size="7.5" text-anchor="middle" >6</text>
<rect class="cn" style="stroke-width:1.2" x="501.25" y="403" width="33.75" height="12"/>
<line class="cs" x1="501.25" y1="407.08" x2="535" y2="407.08"/>
<line class="cs" x1="501.25" y1="410.92" x2="535" y2="410.92"/>
<text x="497.3" y="412.18" font-size="8" text-anchor="middle" >6</text>
<rect x="466.75" y="478.75" width="88.25" height="41.25" fill="#fdfdfe" stroke="#333" stroke-width="2.2"/>
<path class="tb" d="M478,479V509.5M489.5,479V509.5M501.25,479V509.5M513,479V509.5M524.5,479V509.5M536.25,479V509.5M467,488.75H555M467,499.5H555M467,509.5H555"/>
<path class="dk" style="stroke-width:1.6" d="M495,484.3H507"/>
<circle class="jd" cx="495" cy="484.3" r="3.6"/>
<circle class="jd" cx="507" cy="484.3" r="3.6"/>
<path class="dk" style="stroke-width:1.6" d="M518.75,484.3H529.5"/>
<circle class="jd" cx="518.75" cy="484.3" r="3.6"/>
<circle class="jd" cx="529.5" cy="484.3" r="3.6"/>
<text x="545.7" y="486.5" font-size="4" text-anchor="middle" letter-spacing="0.5">ON</text>
<text x="545.7" y="496.3" font-size="4" text-anchor="middle" letter-spacing="0.5">OFF</text>
<text x="545.7" y="506.3" font-size="4" text-anchor="middle" letter-spacing="0.5">LOCK</text>
<rect x="476.25" y="510.5" width="52.5" height="7.6" fill="#a9a9a9" stroke="#555" stroke-width="0.8"/>
<text x="502.5" y="516.7" font-size="5.7" text-anchor="middle" >Zündschloß</text>
<text x="513.25" y="531.156" font-size="9.6" text-anchor="middle" >35</text>
<path class="gd" d="M553,406.25H568M555.7,409.25H565.3M558.4,412.05H562.6"/>
<text x="560" y="424.612" font-size="9.2" text-anchor="middle" >17</text>
<rect class="cn" style="stroke-width:1.9" x="599.5" y="413.75" width="52.3" height="12.75"/>
<line class="cs" x1="599.5" y1="418.085" x2="651.8" y2="418.085"/>
<line class="cs" x1="599.5" y1="422.165" x2="651.8" y2="422.165"/>
<text x="591.75" y="424.49" font-size="9" text-anchor="middle" >6</text>
<rect x="568.25" y="480" width="105.5" height="47" fill="none" stroke="#444" stroke-width="1"/>
<rect x="568.25" y="527" width="105.5" height="7.6" fill="#c4c4c4" stroke="#444" stroke-width="1"/>
<text x="621" y="532.9" font-size="5.7" text-anchor="middle" >Lenkerarmatur: Rechts</text>
<text x="620" y="493.156" font-size="9.6" text-anchor="middle" >36</text>
<path d="M574.5,496.25H612.5V525H574.5Z" fill="#fdfdfe" stroke="none"/>
<path class="tb" d="M574.5,496.25H612.5V525H574.5ZM574.5,506.25H612.5M574.5,516.25H612.5M590.5,496.25V525M601.25,496.25V525"/>
<rect x="575" y="516.8" width="37" height="7.7" fill="#fdfdfe"/>
<text x="582.5" y="503.3" font-size="4" text-anchor="middle" >FREE</text>
<text x="582.5" y="513.3" font-size="4" text-anchor="middle" >PUSH</text>
<text x="593.5" y="522.6" font-size="4" text-anchor="middle" >STARTER</text>
<path class="dk" style="stroke-width:1.6" d="M596.25,511.25H607"/>
<circle class="jd" cx="596.25" cy="511.25" r="3.6"/>
<circle class="jd" cx="607" cy="511.25" r="3.6"/>
<path d="M629.5,496.25H668V525H629.5Z" fill="#fdfdfe" stroke="none"/>
<path class="tb" d="M629.5,496.25H668V525H629.5ZM629.5,506.25H668M629.5,516.25H668M640.5,496.25V525M652,496.25V525"/>
<rect x="630" y="516.8" width="37.5" height="7.7" fill="#fdfdfe"/>
<path class="tb" d="M652,516.25V525"/>
<text x="660" y="503.3" font-size="4" text-anchor="middle" >RUN</text>
<text x="660" y="513.3" font-size="4" text-anchor="middle" >OFF</text>
<text x="640.7" y="522.6" font-size="3.8" text-anchor="middle" >ENGINE</text>
<text x="660" y="522.6" font-size="3.8" text-anchor="middle" >STOP</text>
<path class="dk" style="stroke-width:1.6" d="M634.5,501.25H646.25"/>
<circle class="jd" cx="634.5" cy="501.25" r="3.6"/>
<circle class="jd" cx="646.25" cy="501.25" r="3.6"/>
<rect class="bx" x="651.25" y="443" width="29.25" height="32" fill="#fcfdfe"/>
<text x="665.75" y="461.156" font-size="9.6" text-anchor="middle" >37</text>
<rect class="bx" x="680" y="501.25" width="30.75" height="13.75"/>
<circle class="oc" cx="687.5" cy="508" r="2.9"/>
<circle class="oc" cx="703.75" cy="508" r="2.9"/>
<path class="dk" style="stroke-width:1.4" d="M684.5,512.6H707M695,505V512.6"/>
<text x="697" y="526.156" font-size="9.6" text-anchor="middle" >38</text>
<path d="M751.2,376.8A17.2,16.3 0 1 1 751.2,388" fill="none" stroke="#333" stroke-width="1.1"/>
<circle cx="768.2" cy="382.1" r="6.9" class="bx"/>
<rect class="bx" x="753" y="377.7" width="7.6" height="7.9" fill="#fcfdfe"/>
<text x="768.4" y="384.588" font-size="5.8" text-anchor="middle" >5</text>
<text x="765.3" y="360.868" font-size="8.8" text-anchor="middle" >4</text>
<path d="M724.1,258.7A33.5,30.6 0 1 1 729.2,296.5" fill="none" stroke="#444" stroke-width="0.9"/>
<circle cx="757.2" cy="268.4" r="10" fill="#fcfdfe" stroke="#333" stroke-width="1"/>
<rect class="bx" x="737.3" y="263.1" width="9.7" height="9.2" fill="#fcfdfe"/>
<circle cx="749.6" cy="290.4" r="5.9" fill="#fcfdfe" stroke="#333" stroke-width="1"/>
<rect class="bx" x="736.8" y="286" width="5.8" height="7.3" fill="#fcfdfe"/>
<text x="757.2" y="271.3" font-size="7.5" text-anchor="middle" >2</text>
<text x="749.8" y="292.94" font-size="6.5" text-anchor="middle" >3</text>
<text x="750.75" y="238.668" font-size="8.8" text-anchor="middle" >1</text>
<rect class="cn" x="694.8" y="263.1" width="9.2" height="30.8"/>
<line class="cs" x1="698.848" y1="263.1" x2="698.848" y2="293.9"/>
<line class="cs" x1="700.872" y1="263.1" x2="700.872" y2="293.9"/>
<text x="702.3" y="260.7" font-size="7.5" text-anchor="middle" >6</text>
</svg>
</body></html>
